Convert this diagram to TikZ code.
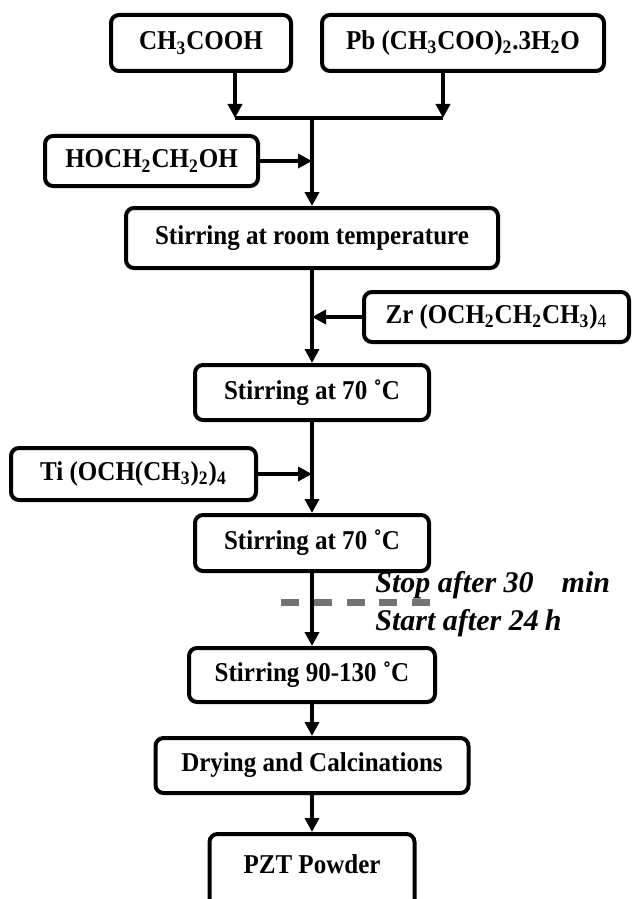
\documentclass[tikz,border=0pt]{standalone}
\usepackage{fontspec}
\setmainfont{Liberation Serif}
\newfontfamily\boxfont[FakeStretch=0.92]{Liberation Serif}
\usetikzlibrary{arrows.meta,positioning}

\begin{document}
\begin{tikzpicture}[
    x=0.5pt, y=-0.5pt,
    box/.style={rectangle, draw, rounded corners=4pt, line width=2pt, text centered, inner sep=0pt, font=\boxfont\fontsize{13.6}{16}\selectfont\bfseries},
    arrow/.style={-{Triangle[length=7pt,width=7pt]}, line width=2pt},
    link/.style={line width=2pt},
    cut/.style={draw=black!55, line width=3.5pt, dash pattern=on 9pt off 7.4pt},
    note/.style={inner sep=0pt, font=\fontsize{15}{19}\selectfont\bfseries\itshape}
]
    \useasboundingbox (0,0) rectangle (635,899);

    % starting materials
    \node[box, minimum width=90pt, minimum height=28pt] (acid) at (201,43) {CH\textsubscript{3}COOH};
    \node[box, minimum width=141pt, minimum height=28pt] (lead) at (463,43) {Pb (CH\textsubscript{3}COO)\textsubscript{2}.3H\textsubscript{2}O};
    \node[box, minimum width=106.5pt, minimum height=25pt] (glycol) at (151.5,161) {HOCH\textsubscript{2}CH\textsubscript{2}OH};

    % main line
    \node[box, minimum width=186pt, minimum height=30pt] (room) at (312,238) {Stirring at room temperature};
    \node[box, minimum width=132.5pt, minimum height=25pt] (zr) at (496.5,317) {Zr (OCH\textsubscript{2}CH\textsubscript{2}CH\textsubscript{3})\textsubscript{\mdseries 4}};
    \node[box, minimum width=117pt, minimum height=27.5pt] (heatA) at (312,392.5) {Stirring at 70 ˚C};
    \node[box, minimum width=122.5pt, minimum height=26pt] (ti) at (133.5,474) {Ti (OCH(CH\textsubscript{3})\textsubscript{2})\textsubscript{4}};
    \node[box, minimum width=117pt, minimum height=28pt] (heatB) at (312,543) {Stirring at 70 ˚C};
    \node[box, minimum width=123pt, minimum height=27pt] (reflux) at (312,675) {Stirring 90-130 ˚C};
    \node[box, minimum width=156.5pt, minimum height=27.5pt] (dry) at (312,765.5) {Drying and Calcinations};
    \node[box, anchor=north, minimum width=102.5pt, text height=19.5pt, text depth=20pt] (pzt) at (312,832) {PZT Powder};

    \coordinate (mix) at (312,118);
    \coordinate (dropL) at (235,118);
    \coordinate (dropR) at (443,118);
    \coordinate (cutL) at (281,602);
    \coordinate (cutR) at (430,602);

    \draw[arrow] (acid.south -| dropL) -- (dropL);
    \draw[arrow] (lead.south -| dropR) -- (dropR);
    \draw[link] (dropL) -- (dropR);
    \draw[arrow] (mix) -- (room.north);
    \draw[arrow] (glycol.east) -- (glycol -| mix);

    \draw[arrow] (room) -- (heatA);
    \draw[arrow] (zr.west) -- (zr -| mix);
    \draw[arrow] (heatA) -- (heatB);
    \draw[arrow] (ti.east) -- (ti -| mix);

    \draw[cut] (cutL) -- (cutR);
    \node[note, anchor=base west] (stop) at (375,592) {Stop after 30\hspace{14pt}min};
    \node[note, anchor=base west] (restart) at (375,630) {Start after 24\hspace{3pt}h};
    \draw[arrow] (heatB) -- (reflux);

    \draw[arrow] (reflux) -- (dry);
    \draw[arrow] (dry) -- (pzt);
\end{tikzpicture}
\end{document}
